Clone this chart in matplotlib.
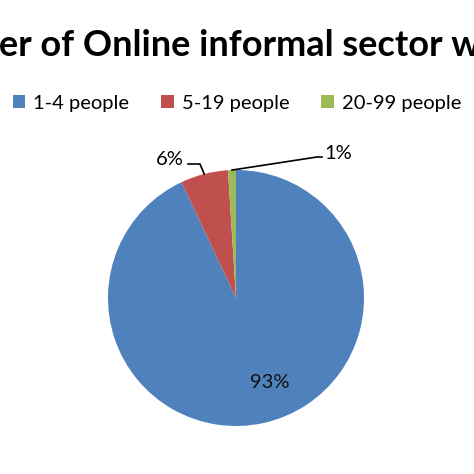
import numpy as np
import matplotlib
matplotlib.use("Agg")
import matplotlib.pyplot as plt

plt.rcParams['font.family'] = ['Lato', 'DejaVu Sans']

TITLE = "Number of Online informal sector workers"
TITLE_HIDDEN = "Numb"          # part of the title cut off on the left
categories = ["1-4 people", "5-19 people", "20-99 people"]
values = [93, 6, 1]
labels = ["93%", "6%", "1%"]
colors = ["#4F81BD", "#C0504D", "#9BBB59"]

W = H = 474
fig = plt.figure(figsize=(4.74, 4.74), dpi=100)
ax = fig.add_axes([0, 0, 1, 1])

cx, cy, r = 236, H - 298, 128
wedges, _ = ax.pie(values, colors=colors, startangle=90, counterclock=False,
                   center=(cx, cy), radius=r, frame=True,
                   wedgeprops=dict(linewidth=0))
ax.set_xlim(0, W)
ax.set_ylim(0, H)
ax.set_aspect("equal")
ax.axis("off")

def edge_point(w, frac=1.0):
    mid = np.radians((w.theta1 + w.theta2) / 2)
    return cx + frac * r * np.cos(mid), cy + frac * r * np.sin(mid)

# 93% inside
ax.text(270, H - 383, labels[0], fontsize=14.5, ha="center", va="center", color="#111111")

# 6% with leader line
ex, ey = edge_point(wedges[1])
ax.plot([ex, 200, 188], [ey, H - 164, H - 164], color="black", lw=1.2)
ax.text(170, H - 159, labels[1], fontsize=14.5, ha="center", va="center")

# 1% with leader line
ex, ey = edge_point(wedges[2])
ax.plot([ex, 317, 322], [ey, H - 157, H - 157], color="black", lw=1.2)
ax.text(338, H - 153, labels[2], fontsize=14.5, ha="center", va="center")

# title, cropped on both sides as in the source image
fig.canvas.draw()
renderer = fig.canvas.get_renderer()
probe = fig.text(0, 0, TITLE_HIDDEN, fontsize=26, fontweight="bold")
hidden_w = probe.get_window_extent(renderer).width
probe.remove()
fig.text((-hidden_w - 1) / W, 1 - 56 / H, TITLE, fontsize=26, fontweight="bold",
         ha="left", va="baseline")

fig.legend(wedges, categories, loc="center", bbox_to_anchor=(0.5, 1 - 103 / H),
           ncol=3, frameon=False, fontsize=14.5, handlelength=0.6, handleheight=0.6,
           handletextpad=0.4, columnspacing=1.6)

fig.savefig("out.png", dpi=100)
